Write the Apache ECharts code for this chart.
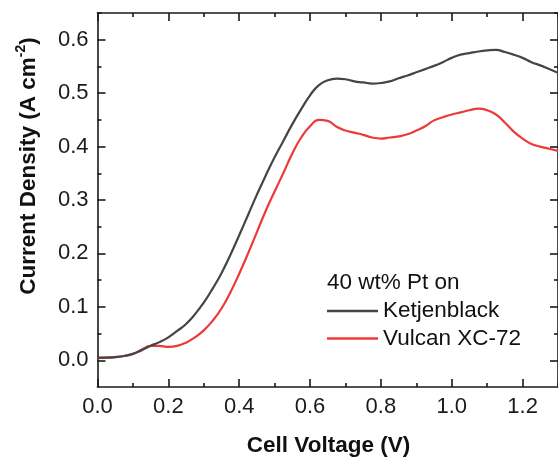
<!DOCTYPE html>
<html>
<head>
<meta charset="utf-8">
<script src="https://cdn.jsdelivr.net/npm/echarts@6/dist/echarts.min.js"></script>
<style>html,body{margin:0;padding:0;background:#fff;}#c{width:558px;height:459px;}</style>
</head>
<body>
<div id="c"></div>
<script>
const voltage = [0.000,0.025,0.050,0.075,0.100,0.125,0.150,0.175,0.200,0.225,0.250,0.275,0.300,0.325,0.350,0.375,0.400,0.425,0.450,0.475,0.500,0.525,0.550,0.575,0.600,0.625,0.650,0.675,0.700,0.725,0.750,0.775,0.800,0.825,0.850,0.875,0.900,0.925,0.950,0.975,1.000,1.025,1.050,1.075,1.100,1.125,1.150,1.175,1.200,1.225,1.250,1.275,1.300];
const ketjenblack = [0.005,0.005,0.006,0.008,0.012,0.019,0.027,0.034,0.043,0.055,0.068,0.086,0.108,0.134,0.163,0.197,0.234,0.272,0.310,0.346,0.380,0.411,0.442,0.470,0.496,0.515,0.524,0.527,0.526,0.522,0.520,0.518,0.519,0.522,0.528,0.533,0.539,0.545,0.551,0.558,0.566,0.572,0.575,0.578,0.580,0.581,0.577,0.572,0.566,0.558,0.552,0.545,0.538];
const vulcan = [0.004,0.005,0.006,0.008,0.012,0.020,0.027,0.027,0.025,0.027,0.033,0.043,0.056,0.074,0.097,0.127,0.162,0.200,0.240,0.280,0.316,0.351,0.387,0.417,0.438,0.450,0.448,0.437,0.430,0.426,0.422,0.417,0.415,0.417,0.419,0.423,0.430,0.438,0.449,0.455,0.460,0.464,0.468,0.471,0.468,0.460,0.445,0.428,0.415,0.405,0.400,0.396,0.392];
const xMajorTicks = [0.0,0.2,0.4,0.6,0.8,1.0,1.2];
const xMinorTicks = [0.1,0.3,0.5,0.7,0.9,1.1,1.3];
const yMajorTicks = [0.0,0.1,0.2,0.3,0.4,0.5,0.6];
const yMinorTicks = [0.05,0.15,0.25,0.35,0.45,0.55,0.65];
const xRange = [0, 1.3];
const yRange = [-0.05, 0.65];
const seriesNames = ['Ketjenblack','Vulcan XC-72'];
const legendTitle = '40 wt% Pt on';

const FONT = 'Liberation Sans, Arial, sans-serif';
const AX = '#1a1a1a';
function xAx(pos, ticks, len, labels, line){
  return {type:'value', position:pos, min:xRange[0], max:xRange[1],
    axisLine:{show:line, onZero:false, lineStyle:{color:AX,width:1.6}},
    axisTick:{show:true, inside:true, length:len, customValues:ticks, lineStyle:{color:AX,width:1.6}},
    axisLabel:{show:labels, customValues:xMajorTicks, formatter:v=>v.toFixed(1), color:AX, fontSize:22, fontFamily:FONT, margin:9},
    splitLine:{show:false}};
}
function yAx(pos, ticks, len, labels, line){
  return {type:'value', position:pos, min:yRange[0], max:yRange[1],
    axisLine:{show:line, onZero:false, lineStyle:{color:AX,width:1.6}},
    axisTick:{show:true, inside:true, length:len, customValues:ticks, lineStyle:{color:AX,width:1.6}},
    axisLabel:{show:labels, customValues:yMajorTicks, formatter:v=>v.toFixed(1), color:AX, fontSize:22, fontFamily:FONT, margin:9},
    splitLine:{show:false}};
}
const chart = echarts.init(document.getElementById('c'), null, {renderer:'canvas'});
chart.setOption({
  animation:false,
  backgroundColor:'#fff',
  grid:{left:97.5, top:13, width:463, height:374, containLabel:false},
  xAxis:[xAx('bottom',xMajorTicks,8,true,true), xAx('top',xMajorTicks,8,false,true),
         xAx('bottom',xMinorTicks,4,false,false), xAx('top',xMinorTicks,4,false,false)],
  yAxis:[yAx('left',yMajorTicks,8,true,true), yAx('right',yMajorTicks,8,false,true),
         yAx('left',yMinorTicks,4,false,false), yAx('right',yMinorTicks,4,false,false)],
  legend:{orient:'vertical', left:327, top:299.5, padding:0, icon:'rect', itemWidth:51, itemHeight:2.5, itemGap:4.5,
    textStyle:{fontSize:22.5, fontFamily:FONT, color:'#111', lineHeight:22.5},
    data:seriesNames},
  graphic:[
    {type:'text', left:327, top:271.5, style:{text:legendTitle, fontSize:22.5, fontFamily:FONT, fill:'#111'}},
    {type:'text', x:328.5, y:446, style:{text:'Cell Voltage (V)', font:'bold 22.5px '+FONT, fill:'#111', align:'center', verticalAlign:'middle'}},
    {type:'text', x:27, y:166, rotation:Math.PI/2, style:{
      text:'{n|Current Density (A cm}{s|-2}{n|)}', align:'center', verticalAlign:'middle', fill:'#111',
      rich:{n:{font:'bold 22.5px '+FONT, lineHeight:26, verticalAlign:'bottom'}, s:{font:'bold 14px '+FONT, lineHeight:26, verticalAlign:'top', padding:[0,0,10,0]}}}}
  ],
  series:[
    {name:seriesNames[0], type:'line', xAxisIndex:0, yAxisIndex:0, symbol:'none', smooth:true,
     data:voltage.map((v,i)=>[v,ketjenblack[i]]), lineStyle:{color:'#454545', width:2.2}, itemStyle:{color:'#454545'}, z:3},
    {name:seriesNames[1], type:'line', xAxisIndex:0, yAxisIndex:0, symbol:'none', smooth:true,
     data:voltage.map((v,i)=>[v,vulcan[i]]), lineStyle:{color:'#ec3a3a', width:2.2}, itemStyle:{color:'#ec3a3a'}, z:2}
  ]
});
</script>
</body>
</html>
